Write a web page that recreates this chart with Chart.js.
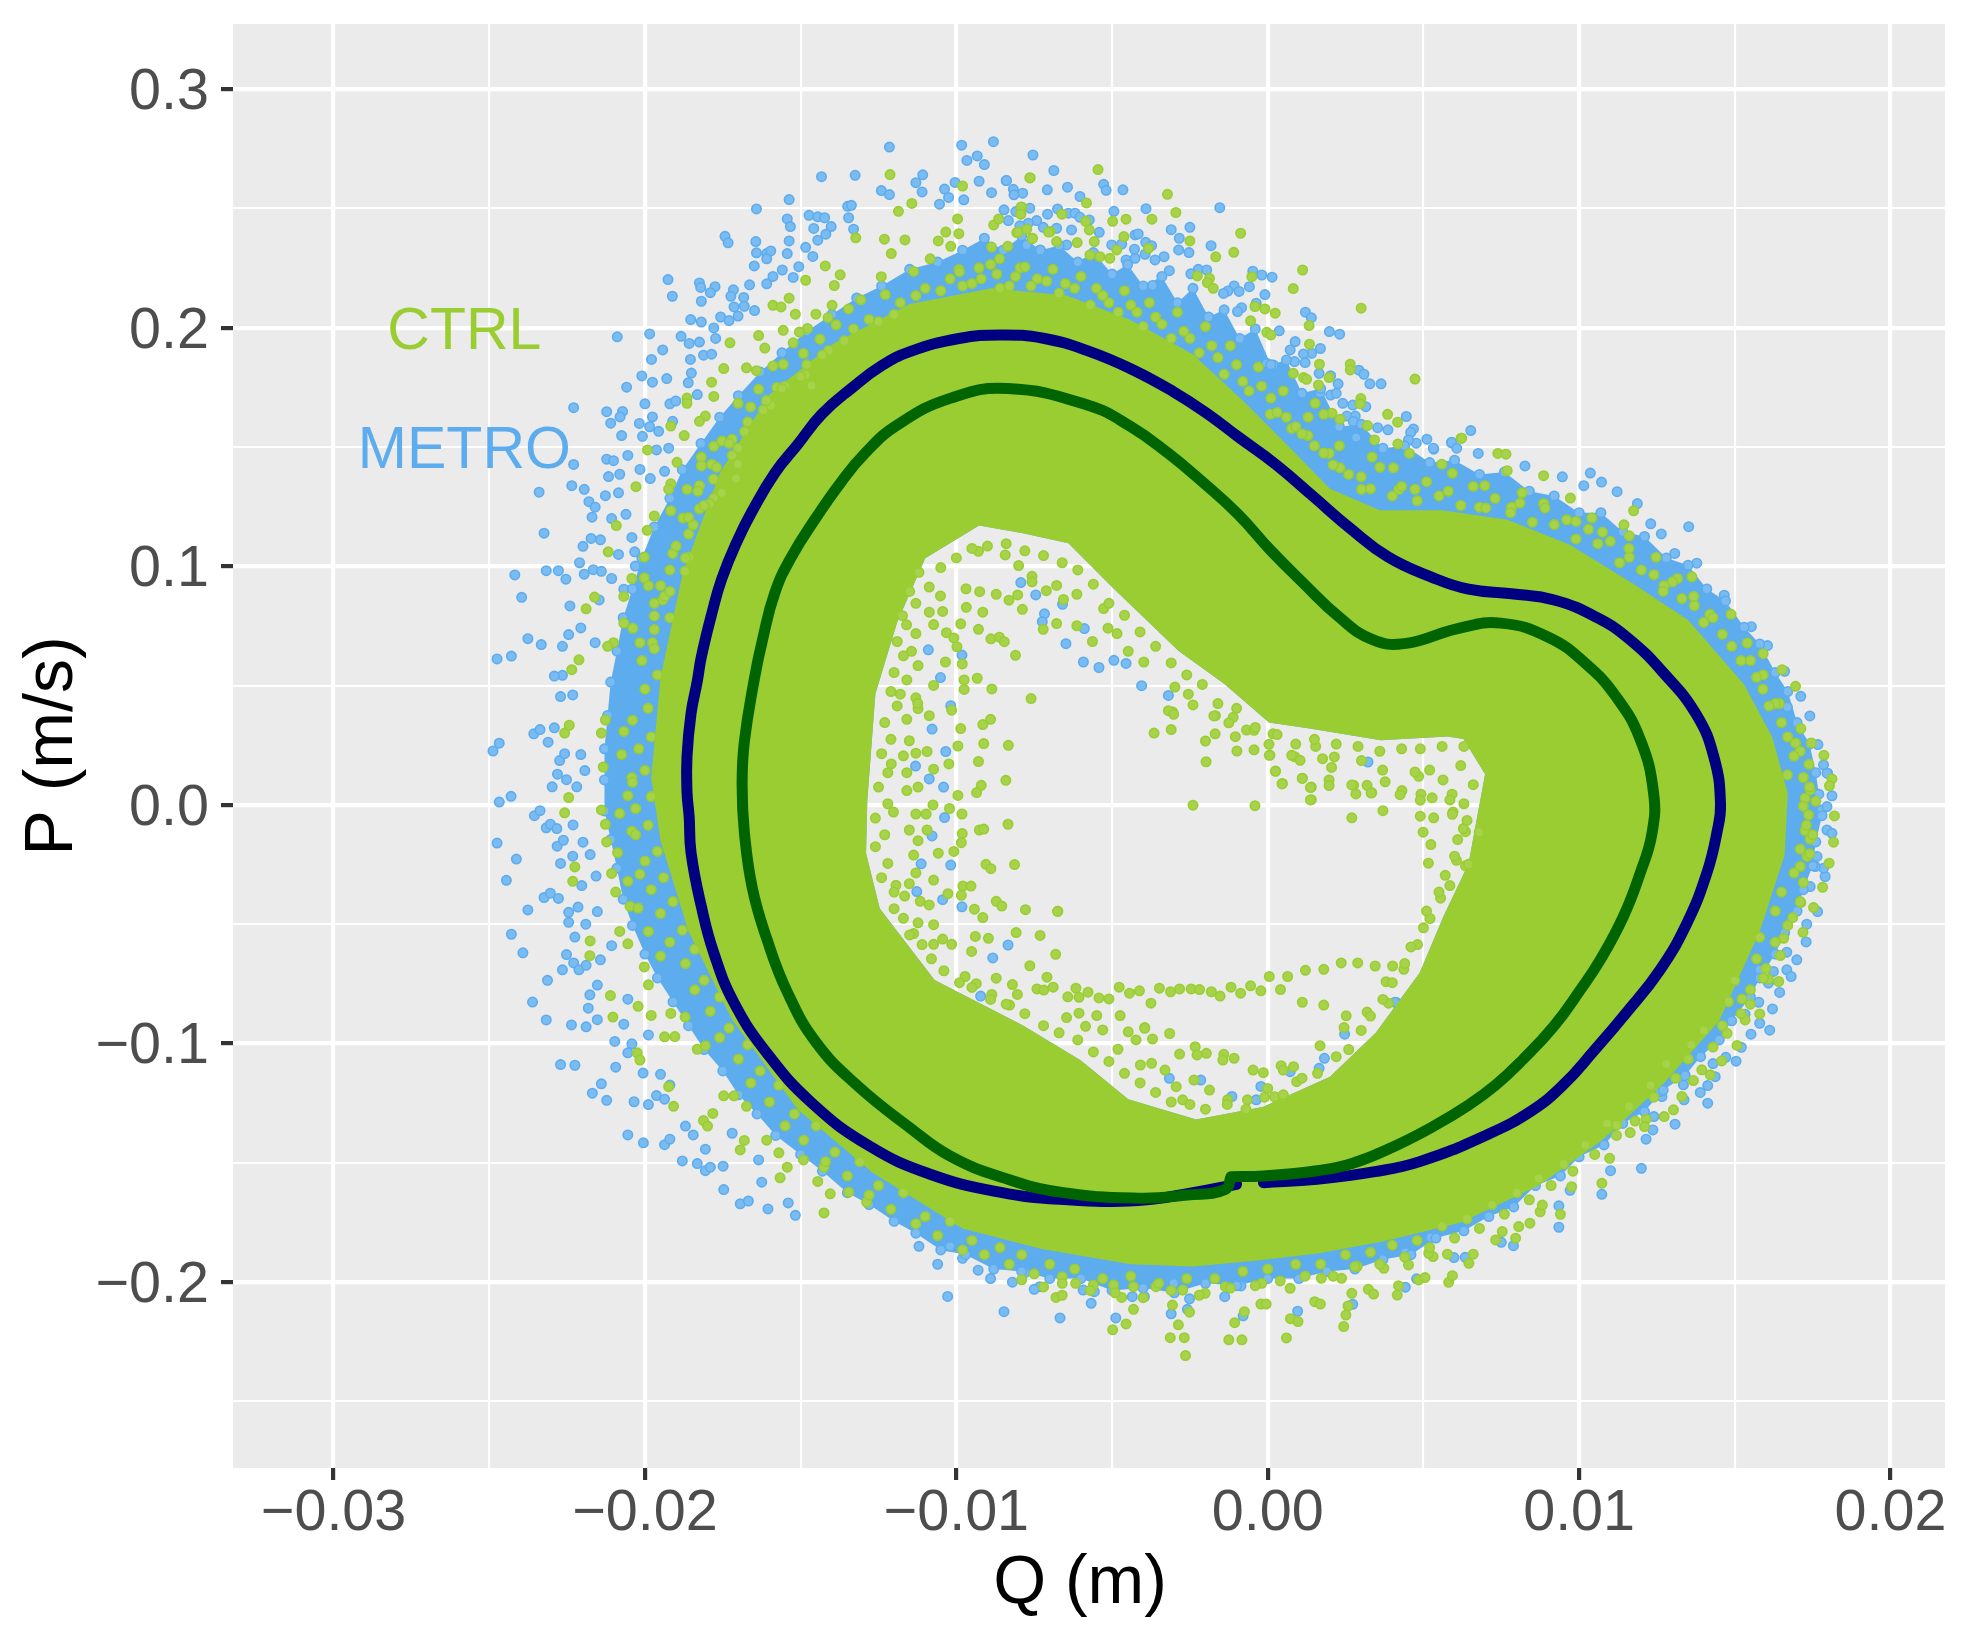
<!DOCTYPE html>
<html>
<head>
<meta charset="utf-8">
<title>Q P phase plot</title>
<script src="https://cdn.jsdelivr.net/npm/chart.js@4/dist/chart.umd.js"></script>
<style>
  html, body { margin: 0; padding: 0; background: #fff; }
  canvas { display: block; }
</style>
</head>
<body>
<canvas id="chart" width="1968" height="1632"></canvas>
<script>
// ==================== AXES ====================
const qTicks = [-0.03, -0.02, -0.01, 0, 0.01, 0.02];
const qTickLabels = ["−0.03", "−0.02", "−0.01", "0.00", "0.01", "0.02"];
const qMinor = [-0.025, -0.015, -0.005, 0.005, 0.015];
const pTicks = [-0.2, -0.1, 0, 0.1, 0.2, 0.3];
const pTickLabels = ["−0.2", "−0.1", "0.0", "0.1", "0.2", "0.3"];
const pMinor = [-0.25, -0.15, -0.05, 0.05, 0.15, 0.25];
const groupNames = ["CTRL", "METRO"];
const groupLabelQ = [-0.0258, -0.0258];
const groupLabelP = [0.2, 0.15];

// ==================== LIMIT CYCLES (Q, P) ====================
const metroCycle = [
  [-0.00014,-0.1583],[0.00158,-0.1569],[0.00344,-0.1537],[0.00488,-0.1495],[0.00703,-0.1383],[0.00847,-0.1282],[0.0095,-0.1172],[0.01046,-0.1033],
  [0.01153,-0.0869],[0.0126,-0.0691],[0.01346,-0.0496],[0.0141,-0.0286],[0.01442,-0.0119],[0.01454,0.0006],[0.01433,0.02],[0.01376,0.038],
  [0.0127,0.0555],[0.01161,0.0695],[0.01058,0.0785],[0.0092,0.0859],[0.00783,0.0885],[0.00645,0.0904],[0.00524,0.0956],[0.00387,0.1039],
  [0.00266,0.1158],[0.00146,0.1293],[0.00025,0.1428],[-0.00095,0.1543],[-0.00196,0.1642],[-0.00303,0.1732],[-0.00432,0.1823],[-0.00571,0.19],
  [-0.00721,0.1956],[-0.0086,0.197],[-0.00992,0.1955],[-0.01149,0.19],[-0.01241,0.184],[-0.01333,0.175],[-0.01432,0.1638],[-0.0151,0.151],
  [-0.01583,0.1391],[-0.01655,0.1233],[-0.01701,0.1114],[-0.01753,0.0949],[-0.01786,0.0799],[-0.01819,0.062],[-0.01832,0.0518],[-0.01852,0.0383],
  [-0.01865,0.0203],[-0.01865,0.0054],[-0.01858,-0.0051],[-0.01852,-0.02],[-0.01819,-0.0425],[-0.01779,-0.062],[-0.01714,-0.0829],[-0.01609,-0.1039],
  [-0.01465,-0.1248],[-0.01281,-0.1428],[-0.01084,-0.1548],[-0.00861,-0.1623],[-0.00667,-0.1653],[-0.00416,-0.1658],[-0.0024,-0.1625],[-0.001,-0.159]
];
const ctrlCycle = [
  [-0.00118,-0.1558],[-0.00014,-0.1555],[0.00158,-0.1533],[0.00273,-0.1502],[0.00416,-0.1425],[0.00531,-0.1348],[0.00646,-0.1257],[0.00732,-0.1174],
  [0.00818,-0.1069],[0.00918,-0.0929],[0.01004,-0.0775],[0.01068,-0.0649],[0.01142,-0.0468],[0.01196,-0.0286],[0.01234,-0.0119],[0.01239,0.0051],
  [0.01196,0.0275],[0.01118,0.0455],[0.01023,0.059],[0.00903,0.0702],[0.00748,0.0762],[0.0061,0.0739],[0.00438,0.0676],[0.00335,0.0694],
  [0.00232,0.0784],[0.00111,0.0934],[0.00008,0.1069],[-0.00095,0.1218],[-0.00216,0.1361],[-0.00319,0.1473],[-0.00439,0.1585],[-0.00577,0.1675],
  [-0.00835,0.1745],[-0.01018,0.1705],[-0.01189,0.1593],[-0.01294,0.1473],[-0.01373,0.1348],[-0.01451,0.1203],[-0.0153,0.1039],[-0.01583,0.0889],
  [-0.01622,0.0695],[-0.01648,0.0533],[-0.01681,0.0263],[-0.01688,0.0084],[-0.01681,-0.0111],[-0.01655,-0.035],[-0.01609,-0.056],[-0.01543,-0.0784],
  [-0.01451,-0.0994],[-0.0132,-0.1174],[-0.01149,-0.1353],[-0.01018,-0.1473],[-0.00848,-0.1563],[-0.00667,-0.1623],[-0.00416,-0.1648],[-0.00258,-0.1635],
  [-0.00136,-0.1611],[-0.00118,-0.1558]
];

// ==================== SOLID PARTS OF THE CLOUDS (Q, P) ====================
const ctrlOuter = [
  [-0.00887,0.2165],[-0.00645,0.2135],[-0.00444,0.2035],[-0.00242,0.189],[-0.0008,0.1695],[0.0008,0.1485],[0.002,0.1325],[0.0036,0.1235],
  [0.0056,0.1235],[0.0077,0.1195],[0.0097,0.109],[0.0117,0.093],[0.0135,0.0775],[0.0153,0.0505],[0.0162,0.0285],[0.0167,0.005],
  [0.0166,-0.021],[0.0158,-0.053],[0.0145,-0.0905],[0.0127,-0.117],[0.0107,-0.141],[0.0087,-0.1595],[0.0062,-0.175],[0.0037,-0.183],
  [0.0016,-0.188],[-0.0004,-0.191],[-0.0024,-0.1935],[-0.0044,-0.1925],[-0.0073,-0.186],[-0.0098,-0.1775],[-0.0127,-0.154],
  [-0.0151,-0.1275],[-0.0172,-0.09],[-0.0186,-0.053],[-0.0195,-0.015],[-0.0198,0.0113],[-0.0195,0.0534],[-0.0188,0.0965],
  [-0.0176,0.139],[-0.016,0.172],[-0.014,0.193],[-0.0115,0.21]
];
const ctrlInner = [
  [-0.00927,0.1171],[-0.011,0.1034],[-0.0119,0.0766],[-0.0126,0.0466],[-0.01286,0.0018],[-0.0129,-0.0203],[-0.01246,-0.0434],
  [-0.0107,-0.0734],[-0.00786,-0.0924],[-0.006,-0.1071],[-0.00448,-0.1234],[-0.0023,-0.1318],[-0.00016,-0.1266],[0.002,-0.1139],
  [0.00347,-0.0955],[0.00488,-0.0703],[0.00565,-0.0466],[0.00645,-0.0245],[0.00698,0.0129],[0.00629,0.0276],[0.00577,0.0287],
  [0.00363,0.0271],[0.00145,0.0318],[0.00004,0.0345],[-0.0014,0.0508],[-0.00286,0.0645],[-0.005,0.0913],[-0.0064,0.1097],[-0.00786,0.1139]
];

// ==================== METRO POINTS (Q, P) ====================
const metroEdge = [
  [-0.0098,0.2325],[-0.0091,0.2375],[-0.0085,0.2325],[-0.0079,0.2385],[-0.0073,0.2325],[-0.0067,0.2345],[-0.0061,0.2275],[-0.0056,0.2315],[-0.005,0.2225],[-0.0045,0.2265],
  [-0.004,0.2175],[-0.0034,0.2215],[-0.0029,0.2105],[-0.0024,0.2165],[-0.0019,0.2045],[-0.0014,0.2075],[-0.0009,0.1955],[-0.0004,0.1995],[0.0001,0.1845],[0.0006,0.1865],
  [0.0011,0.1725],[0.0017,0.1745],[0.0023,0.1585],[0.003,0.1595],[0.0037,0.1495],[0.0044,0.1505],[0.0052,0.1435],[0.006,0.1445],[0.0068,0.1385],[0.0076,0.1395],
  [0.0084,0.1315],[0.0092,0.1295],[0.01,0.1225],[0.0107,0.1225],[0.0114,0.1145],[0.0121,0.1125],[0.0128,0.1035],[0.0135,0.1005],[0.0141,0.0905],[0.0147,0.0855],
  [0.0153,0.0745],[0.0158,0.0675],[0.0163,0.0555],[0.0167,0.0475],[0.017,0.0345],[0.0174,0.0255],[0.0176,0.0135],[0.0177,0.0045],[0.0178,-0.0045],[0.0176,-0.0155],
  [0.0175,-0.0255],[0.0172,-0.0355],[0.017,-0.0445],[0.0166,-0.0535],[0.0163,-0.0625],[0.0158,-0.0725],[0.0155,-0.0805],[0.0149,-0.0905],[0.0145,-0.0985],[0.0139,-0.1055],
  [0.0134,-0.1135],[0.0127,-0.1195],[0.0121,-0.1285],[0.0114,-0.1335],[0.0108,-0.1425],[0.01,-0.1475],[0.0094,-0.1555],[0.0086,-0.1595],[0.0079,-0.1685],[0.0071,-0.1725],
  [0.0063,-0.1785],[0.0054,-0.1815],[0.0046,-0.1885],[0.0037,-0.1905],[0.0028,-0.1945],[0.0019,-0.1955],[0.001,-0.1985],[0,-0.1985],[-0.001,-0.2015],[-0.002,-0.2005],
  [-0.003,-0.2045],[-0.004,-0.2025],[-0.005,-0.2035],[-0.006,-0.1985],[-0.007,-0.1985],[-0.0079,-0.1955],[-0.0088,-0.1945],[-0.0097,-0.1885],[-0.0105,-0.1865],[-0.0113,-0.1795],
  [-0.012,-0.1745],[-0.0128,-0.1675],[-0.0135,-0.1625],[-0.0143,-0.1535],[-0.015,-0.1465],[-0.0158,-0.1385],[-0.0164,-0.1295],[-0.017,-0.1215],[-0.0175,-0.1115],[-0.0181,-0.1025],
  [-0.0186,-0.0925],[-0.0191,-0.0825],[-0.0196,-0.0725],[-0.02,-0.0625],[-0.0204,-0.0505],[-0.0207,-0.0395],[-0.0209,-0.0265],[-0.0211,-0.0145],[-0.0213,-0.0025],[-0.0213,0.0105],
  [-0.0213,0.0235],[-0.0212,0.0375],[-0.0211,0.0515],[-0.0209,0.0645],[-0.0207,0.0785],[-0.0204,0.0905],[-0.0201,0.1035],[-0.0197,0.1165],[-0.0192,0.1285],[-0.0188,0.1405],
  [-0.0182,0.1515],[-0.0176,0.1625],[-0.017,0.1715],[-0.0163,0.1815],[-0.0156,0.1895],[-0.0148,0.1985],[-0.014,0.2055],[-0.0132,0.2125],[-0.0124,0.2175],[-0.0115,0.2245],[-0.0106,0.2275]
];
const metroUpperLeft = [
  [-0.01215,0.2757],[-0.00983,0.2765],[-0.00881,0.278],[-0.00933,0.272],[-0.00966,0.2701],[-0.0091,0.2684],[-0.01433,0.2633],[-0.01325,0.2639],
  [-0.01537,0.2537],[-0.01642,0.2498],[-0.01108,0.2641],[-0.0113,0.2608],[-0.01241,0.2575],[-0.01215,0.2558],[-0.01038,0.2581],[-0.01004,0.2609],
  [-0.00839,0.2617],[-0.00927,0.2614],[-0.00887,0.2566],[-0.0111,0.2569],[-0.01025,0.2546],[-0.00976,0.2536],[-0.01054,0.2518],[-0.01349,0.2509],
  [-0.01337,0.2513],[-0.01543,0.2456],[-0.01533,0.2424],[-0.01473,0.2471],[-0.01445,0.2465],[-0.01423,0.2461],[-0.01346,0.2461],[-0.0133,0.2413],
  [-0.01402,0.2424],[-0.01458,0.2416],[-0.01419,0.2392],[-0.01743,0.2383],[-0.01733,0.2356],[-0.01644,0.2361],[-0.01537,0.2364],[-0.01642,0.2314],
  [-0.01609,0.2311],[-0.01596,0.2322],[-0.01609,0.2289],[-0.01543,0.2311],[-0.01484,0.2337],[-0.01445,0.2367],[-0.01461,0.2299],[-0.01649,0.2259],
  [-0.01559,0.2242],[-0.01506,0.2256],[-0.01589,0.2215],[-0.01524,0.2211],[-0.01926,0.2202],[-0.01825,0.2188],[-0.01821,0.2169],[-0.01775,0.2172],
  [-0.01912,0.2132],[-0.01819,0.2111],[-0.0179,0.2147],[-0.01716,0.2159],[-0.01664,0.218],[-0.01609,0.2184],[-0.01724,0.2132],[-0.01683,0.2127],
  [-0.01853,0.2034],[-0.01819,0.2024],[-0.01757,0.2045],[-0.01714,0.2087],[-0.01681,0.209],[-0.01648,0.2072],[-0.01701,0.2049],[-0.0173,0.203],
  [-0.01779,0.1999],[-0.02089,0.1962],[-0.01985,0.1974],[-0.01884,0.1964],[-0.01858,0.1934],[-0.01825,0.194],[-0.01773,0.1955],[-0.01979,0.1867],
  [-0.01943,0.1907],[-0.01854,0.1867],[-0.01812,0.1885],[-0.01786,0.1889],[-0.01851,0.181],[-0.0201,0.1798],[-0.01976,0.1772],[-0.0193,0.1787],
  [-0.01861,0.1769],[-0.02059,0.1751],[-0.02229,0.1665],[-0.02123,0.1648],[-0.02072,0.1649],[-0.02,0.1681],[-0.0192,0.1681],[-0.01901,0.1693],
  [-0.01832,0.172],[-0.0208,0.1626],[-0.0211,0.16],[-0.01976,0.1626],[-0.02018,0.1599],[-0.02075,0.1548],[-0.01985,0.1585],[-0.01956,0.1566],
  [-0.02008,0.1545],[-0.01911,0.1608],[-0.02229,0.1427],[-0.02123,0.1449],[-0.02101,0.1443],[-0.02055,0.1465],[-0.02117,0.1376],[-0.02081,0.1386],
  [-0.02016,0.1406],[-0.02235,0.1338],[-0.0234,0.1311],[-0.02195,0.1323],[-0.02127,0.1296],[-0.02085,0.1308],[-0.01963,0.1488],[-0.01924,0.1495],
  [-0.01937,0.1398],[-0.01983,0.1368],[-0.0218,0.1271],[-0.0216,0.1248],[-0.0217,0.1206],[-0.02107,0.12],[-0.02061,0.1218],[-0.02324,0.1139],
  [-0.02042,0.1121],[-0.02173,0.1117],[-0.02143,0.1111],[-0.02199,0.1084],[-0.02033,0.1061],[-0.02085,0.105],[-0.0221,0.1015],[-0.02317,0.0982],
  [-0.02278,0.0982],[-0.02254,0.0946],[-0.02418,0.0964],[-0.02166,0.0986],[-0.02195,0.0967],[-0.0214,0.0979],[-0.02031,0.1001],[-0.02396,0.087],
  [-0.02241,0.0834],[-0.02107,0.0949],[-0.02068,0.0904],[-0.02147,0.0859],[-0.02376,0.0697],[-0.02245,0.0714],[-0.02206,0.0742],[-0.02333,0.0672],
  [-0.02265,0.0665],[-0.0216,0.068],[-0.02475,0.0612],[-0.02429,0.0624]
];
const metroLowerLeft = [
  [-0.02488,0.0226],[-0.02468,0.0259],[-0.02357,0.0298],[-0.02337,0.0316],[-0.02311,0.0263],[-0.02291,0.0323],[-0.02265,0.0543],[-0.02291,0.054],
  [-0.02232,0.0461],[-0.02271,0.0454],[-0.02206,0.0211],[-0.02274,0.0186],[-0.02258,0.0215],[-0.02298,0.0076],[-0.02281,0.0129],[-0.02219,0.0076],
  [-0.02252,0.0106],[-0.02193,0.0144],[-0.02468,0.0012],[-0.0243,0.0036],[-0.02355,-0.0045],[-0.02337,-0.0024],[-0.02317,-0.0096],[-0.02304,-0.0081],
  [-0.02283,-0.0099],[-0.02231,-0.0084],[-0.02475,-0.016],[-0.02413,-0.0227],[-0.02282,-0.0173],[-0.02262,-0.0148],[-0.02199,-0.0156],[-0.02271,-0.0245],
  [-0.02232,-0.0215],[-0.02176,-0.0208],[-0.02445,-0.0316],[-0.02324,-0.0388],[-0.02304,-0.037],[-0.02278,-0.0392],[-0.02203,-0.0338],[-0.02157,-0.0298],
  [-0.02376,-0.044],[-0.02429,-0.0542],[-0.02392,-0.062],[-0.02215,-0.0428],[-0.02245,-0.045],[-0.02245,-0.0492],[-0.02225,-0.0554],[-0.0219,-0.05],
  [-0.02153,-0.0447],[-0.02252,-0.0627],[-0.02265,-0.0691],[-0.02229,-0.0662],[-0.02212,-0.0691],[-0.02189,-0.0672],[-0.02313,-0.0735],[-0.02143,-0.0649],
  [-0.02361,-0.0826],[-0.02177,-0.0796],[-0.02153,-0.0755],[-0.02317,-0.0901],[-0.02182,-0.0852],[-0.02236,-0.0922],[-0.02189,-0.093],[-0.02153,-0.09],
  [-0.02055,-0.0814],[-0.02271,-0.1088],[-0.02225,-0.1091],[-0.02097,-0.0991],[-0.02094,-0.1099],[-0.02006,-0.1124],[-0.0214,-0.1169],[-0.02169,-0.1208],
  [-0.02123,-0.1238],[-0.02035,-0.1244],[-0.01989,-0.1256],[-0.02055,-0.1383],[-0.02005,-0.1416],[-0.01937,-0.1424],[-0.0192,-0.1401],[-0.0188,-0.1492],
  [-0.01832,-0.1503],[-0.01806,-0.1533],[-0.0179,-0.1518],[-0.01747,-0.1612],[-0.01749,-0.1514],[-0.01694,-0.1672],[-0.01668,-0.166],[-0.01605,-0.1693],
  [-0.0154,-0.1668],[-0.01517,-0.172],[-0.01625,-0.1581],[-0.0187,-0.1346],[-0.01845,-0.1383],[-0.01806,-0.1443],[-0.0172,-0.1376],[-0.01635,-0.1488],
  [-0.01963,-0.1218],[-0.01937,-0.1233],[-0.0195,-0.1129],[-0.0192,-0.1174],[-0.02042,-0.1001],[-0.02055,-0.1039],[-0.01989,-0.0964],[-0.02068,-0.0919],
  [-0.02107,-0.059],[-0.0102,-0.185],[-0.0098,-0.19],[-0.0093,-0.195],[-0.0089,-0.1985],[-0.0082,-0.2],[-0.0078,-0.196],[-0.0106,-0.1925],[-0.0112,-0.185],
  [-0.0075,-0.203],[-0.00847,-0.2124],[-0.01028,-0.206]
];
const metroTopRight = [
  [-0.00754,0.2724],[-0.00687,0.2659],[-0.0084,0.2617],[-0.00817,0.258],[-0.00787,0.2564],[-0.00815,0.2557],[-0.00708,0.2578],[-0.00643,0.2589],
  [-0.00527,0.2601],[-0.00519,0.2576],[-0.00465,0.2578],[-0.00603,0.255],[-0.00847,0.2494],[-0.00809,0.2487],[-0.00764,0.2501],[-0.00707,0.2476],
  [-0.00675,0.2498],[-0.00494,0.2488],[-0.00391,0.2499],[-0.00154,0.2503],[-0.0064,0.248],[-0.00619,0.248],[-0.00603,0.2463],[-0.00573,0.2452],
  [-0.00742,0.2449],[-0.00769,0.2438],[-0.00796,0.2427],[-0.00833,0.2449],[-0.00678,0.2417],[-0.00721,0.2421],[-0.0063,0.241],[-0.00541,0.24],
  [-0.0031,0.2411],[-0.0025,0.2421],[-0.00284,0.2375],[-0.00286,0.2326],[-0.00253,0.2315],[-0.00182,0.2344],[-0.00426,0.2389],[-0.00416,0.2393],
  [-0.00392,0.2358],[-0.00373,0.2344],[-0.00501,0.2347],[-0.00469,0.2351],[-0.00428,0.2329],[-0.00394,0.2308],[-0.00333,0.2298],[-0.00362,0.2284],
  [-0.00426,0.2291],[-0.00455,0.2284],[-0.00646,0.2347],[-0.00731,0.2326],[-0.00774,0.2347],[-0.00223,0.2245],[-0.00196,0.2242],[-0.00316,0.2239],
  [-0.00247,0.2226],[-0.00048,0.2237],[-0.00019,0.2221],[0.00014,0.2212],[-0.00059,0.2172],[-0.00108,0.2175],[-0.00092,0.2152],[-0.00009,0.2139],
  [-0.00128,0.2154],[-0.00142,0.2144],[-0.0037,0.2177],[-0.00037,0.2103],[-0.00084,0.2084],[-0.00097,0.2068],[0.00121,0.2065],[0.0014,0.2042],
  [0.00037,0.1987],[0.00198,0.1984],[0.00231,0.1973],[0.00088,0.1942],[0.00072,0.1907],[0.00169,0.1913],[0.00141,0.1893],[0.00115,0.189],
  [0.00086,0.1858],[0.0012,0.1854],[-0.00003,0.1851],[0.00018,0.1844],[0.00293,0.1822],[0.00309,0.1805],[0.00165,0.1809],[0.00202,0.1799],
  [0.00328,0.1765],[0.00364,0.1765],[0.00226,0.1765],[0.00168,0.1728],[0.00202,0.1718],[0.0022,0.1725],[0.00241,0.1683],[0.00273,0.1676],
  [0.00315,0.1669],[0.00281,0.163],[0.00254,0.163],[0.00445,0.1628],[0.00275,0.1607],[0.00353,0.1581],[0.00386,0.1572],[0.00468,0.1576],
  [0.00459,0.1561],[0.00652,0.1569],[0.00511,0.1533],[0.00284,0.154],[0.00477,0.1516],[0.00452,0.153],[0.00591,0.152],[0.00532,0.1495],[0.00607,0.1495]
];
const metroRight = [
  [0.0059,0.1518],[0.00533,0.1491],[0.00676,0.1473],[0.01036,0.1391],[0.00946,0.1375],[0.01072,0.1353],[0.01122,0.1313],[0.01015,0.1338],
  [0.00826,0.1421],[0.01187,0.1263],[0.01352,0.1166],[0.0123,0.1178],[0.01378,0.1013],[0.01307,0.1054],[0.01264,0.1136],[0.01466,0.0879],
  [0.01553,0.0747],[0.01605,0.0668],[0.0166,0.056],[0.01712,0.0455],[0.01741,0.0373],[0.01767,0.0253],[0.01798,0.0133],[0.01669,0.041],
  [0.01812,0.0038],[0.01796,0.0133],[0.01785,0.0168],[0.0178,-0.0021],[0.01796,-0.0007],[0.01796,-0.0105],[0.01812,-0.0119],[0.0179,-0.03],
  [0.01785,-0.0265],[0.01764,-0.0216],[0.01758,-0.0258],[0.01742,-0.0342],[0.01766,-0.0447],[0.01731,-0.05],[0.01729,-0.0574],[0.01699,-0.0649],
  [0.01667,-0.0617],[0.01667,-0.0691],[0.01681,-0.0719],[0.01644,-0.0786],[0.0158,-0.0691],[0.01624,-0.0698],[0.01608,-0.0747],[0.01577,-0.0827],
  [0.01621,-0.0855],[0.0158,-0.0915],[0.01612,-0.0944],[0.01552,-0.0961],[0.01533,-0.0877],[0.01521,-0.1016],[0.01504,-0.1074],[0.01471,-0.1058],
  [0.0143,-0.1084],[0.01437,-0.1139],[0.01413,-0.1176],[0.01389,-0.1205],[0.01413,-0.125],[0.01337,-0.1236],[0.01308,-0.1338],[0.01237,-0.1362],
  [0.01215,-0.1401],[0.0124,-0.1306],[0.01266,-0.1222],[0.01335,-0.1173],[0.0134,-0.1131],[0.0126,-0.1201]
];
const metroBottom = [
  [-0.00667,-0.215],[-0.00567,-0.2089],[-0.00488,-0.215],[-0.00435,-0.2061],[-0.00396,-0.2061],[-0.0031,-0.2133],[-0.00251,-0.207],[-0.00258,-0.2114],
  [-0.00138,-0.2061],[-0.00079,-0.2141],[0.00096,-0.2122],[0.00273,-0.2093],[0.00442,-0.2021],[0.00478,-0.1986],[0.00442,-0.1875],[0.00598,-0.1897],
  [0.00634,-0.1896],[0.00524,-0.1813],[0.0075,-0.1833],[0.00789,-0.1847],[0.00935,-0.168],[0.00935,-0.177],[0.00971,-0.1615],[0.01073,-0.1632],
  [0.01101,-0.1533],[0.012,-0.1523],[-0.00732,-0.2019],[-0.00593,-0.2033],[-0.00557,-0.204],[-0.00302,-0.2005],[-0.00086,-0.2016]
];
const metroHole = [
  [-0.00793,0.0932],[-0.00745,0.088],[-0.00659,0.0841],[-0.00717,0.0801],[-0.00724,0.0768],[-0.00648,0.0676],[-0.00589,0.0739],[-0.00592,0.0599],
  [-0.00542,0.0576],[-0.00494,0.0606],[-0.00455,0.0593],[-0.00405,0.05],[-0.00319,0.0459],[-0.0109,0.065],[-0.00982,0.0628],[-0.01051,0.0534],
  [-0.01018,0.0416],[-0.01078,0.0318],[-0.01034,0.0224],[-0.01131,0.0163],[-0.01087,0.0109],[-0.01041,0.0075],[-0.01038,-0.0053],[-0.01078,-0.013],
  [-0.01113,-0.0247],[-0.01018,-0.0252],[-0.01044,-0.0397],[-0.01127,-0.0363],[-0.00982,-0.0427],[-0.00834,-0.0587],[-0.00883,-0.0641],[-0.00922,-0.0801],
  [0.00322,0.018],[0.00413,-0.0828],[-0.00215,-0.1153],[-0.00022,-0.118],[-0.00037,-0.1236],[0.00072,-0.1118],[0.00165,-0.1104],[0.00182,-0.1062],
  [0.00247,-0.0961],[0.00409,-0.0827],[-0.00316,-0.1146],[-0.00115,-0.1222]
];

// ==================== CTRL POINTS (Q, P) ====================
const ctrlEdge = [
  [-0.0098,0.2175],[-0.0092,0.2205],[-0.0086,0.2165],[-0.0081,0.2215],[-0.0076,0.2175],[-0.0071,0.2195],[-0.0067,0.2145],[-0.0062,0.2165],[-0.0057,0.2095],[-0.0053,0.2135],
  [-0.0048,0.2065],[-0.0044,0.2095],[-0.004,0.2005],[-0.0036,0.2045],[-0.0031,0.1955],[-0.0027,0.1985],[-0.0022,0.1895],[-0.0018,0.1925],[-0.0014,0.1805],[-0.001,0.1845],
  [-0.0006,0.1735],[-0.0002,0.1755],[0.0003,0.1645],[0.0006,0.1625],[0.0011,0.1555],[0.0015,0.1505],[0.0021,0.1425],[0.0026,0.1385],[0.0033,0.1325],[0.004,0.1295],
  [0.0048,0.1275],[0.0055,0.1295],[0.0062,0.1255],[0.007,0.1245],[0.0078,0.1225],[0.0085,0.1185],[0.0092,0.1175],[0.0099,0.1115],[0.0106,0.1095],[0.0113,0.1015],
  [0.012,0.0985],[0.0127,0.0895],[0.0133,0.0865],[0.014,0.0765],[0.0146,0.0715],[0.0152,0.0605],[0.0157,0.0535],[0.0161,0.0415],[0.0165,0.0345],[0.0169,0.0205],
  [0.0172,0.0115],[0.0172,-0.0005],[0.0173,-0.0085],[0.0171,-0.0185],[0.0169,-0.0285],[0.0165,-0.0365],[0.0163,-0.0445],[0.0158,-0.0555],[0.0157,-0.0645],[0.015,-0.0735],
  [0.0148,-0.0825],[0.014,-0.0945],[0.0136,-0.1005],[0.0128,-0.1085],[0.0123,-0.1175],[0.0116,-0.1265],[0.0109,-0.1335],[0.0102,-0.1425],[0.0095,-0.1505],[0.0087,-0.1565],
  [0.008,-0.1625],[0.0072,-0.1675],[0.0064,-0.1735],[0.0056,-0.1765],[0.0048,-0.1825],[0.004,-0.1845],[0.0033,-0.1875],[0.0025,-0.1885],[0.0017,-0.1925],[0.0009,-0.1925],
  [0,-0.1945],[-0.0008,-0.1955],[-0.0017,-0.1985],[-0.0026,-0.1985],[-0.0035,-0.2005],[-0.0044,-0.1975],[-0.0053,-0.1985],[-0.0062,-0.1945],[-0.007,-0.1925],[-0.0079,-0.1885],
  [-0.0086,-0.1855],[-0.0095,-0.1825],[-0.0102,-0.1745],[-0.011,-0.1725],[-0.0117,-0.1625],[-0.0125,-0.1595],[-0.0131,-0.1495],[-0.0139,-0.1455],[-0.0145,-0.1345],[-0.0152,-0.1295],
  [-0.0157,-0.1175],[-0.0163,-0.1115],[-0.0167,-0.1005],[-0.0173,-0.0935],[-0.0176,-0.0805],[-0.0181,-0.0735],[-0.0184,-0.0605],[-0.0188,-0.0525],[-0.0191,-0.0405],[-0.0194,-0.0305],
  [-0.0196,-0.0195],[-0.0199,-0.0085],[-0.0198,0.0035],[-0.02,0.0145],[-0.0198,0.0285],[-0.0199,0.0405],[-0.0196,0.0545],[-0.0197,0.0655],[-0.0192,0.0785],[-0.0192,0.0895],
  [-0.0187,0.1035],[-0.0186,0.1135],[-0.0181,0.1255],[-0.0178,0.1365],[-0.0172,0.1465],[-0.0168,0.1565],[-0.0162,0.1655],[-0.0156,0.1745],[-0.015,0.1795],[-0.0143,0.1885],
  [-0.0136,0.1945],[-0.0128,0.2035],[-0.012,0.2055],[-0.0113,0.2135],[-0.0105,0.2155]
];
const ctrlFringe = [
  [-0.0102,0.2205],[-0.0099,0.2235],[-0.0095,0.2185],[-0.0089,0.2265],[-0.0087,0.2225],[-0.0083,0.2175],[-0.0078,0.2255],[-0.0074,0.2205],[-0.0069,0.2245],[-0.0065,0.2185],
  [-0.006,0.2215],[-0.0055,0.2165],[-0.0051,0.2105],[-0.0046,0.2155],[-0.0042,0.2065],[-0.0038,0.2105],[-0.0034,0.2015],[-0.0029,0.2065],[-0.0025,0.1955],[-0.002,0.2005],
  [-0.0016,0.1875],[-0.0012,0.1925],[-0.0008,0.1775],[-0.0003,0.1835],[0.0001,0.1705],[0.0005,0.1735],[0.0009,0.1585],[0.0013,0.1625],[0.0018,0.1475],[0.0023,0.1505],
  [0.003,0.1375],[0.0036,0.1415],[0.0043,0.1335],[0.0051,0.1355],[0.0058,0.1315],[0.0066,0.1335],[0.0073,0.1285],[0.0081,0.1265],[0.0089,0.1245],[0.0096,0.1195],
  [0.0103,0.1155],[0.011,0.1105],[0.0116,0.1075],[0.0124,0.0965],[0.013,0.0935],[0.0137,0.0835],[0.0143,0.0785],[0.0149,0.0665],[0.0155,0.0605],[0.0159,0.0485],
  [0.0163,0.0425],[0.0167,0.0285],[0.0171,0.0225],[0.0174,0.0075],[0.0176,0.0015],[0.0175,-0.0125],[0.0174,-0.0205],[0.0172,-0.0325],[0.0171,-0.0405],[0.0167,-0.0505],
  [0.0163,-0.0575],[0.016,-0.0685],[0.0155,-0.0775],[0.0152,-0.0875],[0.0146,-0.0925],[0.0143,-0.1015],[0.0135,-0.1065],[0.0131,-0.1145],[0.0124,-0.1225],[0.0118,-0.1325],
  [0.0112,-0.1385],[0.0105,-0.1465],[0.0098,-0.1535],[0.0091,-0.1595],[0.0084,-0.1655],[0.0076,-0.1715],[0.0068,-0.1775],[0.006,-0.1815],[0.0052,-0.1855],[0.0044,-0.1895],
  [0.0036,-0.1925],[0.0028,-0.1935],[0.0021,-0.1975],[0.0012,-0.1975],[0.0004,-0.1995],[-0.0004,-0.2015],[-0.0012,-0.2025],[-0.0022,-0.2055],[-0.0031,-0.2035],[-0.004,-0.2065],
  [-0.0049,-0.2045],[-0.0057,-0.2035],[-0.0066,-0.2005],[-0.0075,-0.1965],[-0.0083,-0.1925],[-0.0091,-0.1885],[-0.0098,-0.1865],[-0.0106,-0.1805],[-0.0113,-0.1755],[-0.0121,-0.1695],
  [-0.0128,-0.1635],[-0.0135,-0.1555],[-0.0142,-0.1495],[-0.0149,-0.1405],[-0.0155,-0.1345],[-0.016,-0.1245],[-0.0166,-0.1165],[-0.017,-0.1065],[-0.0176,-0.0975],[-0.0179,-0.0865],
  [-0.0184,-0.0775],[-0.0187,-0.0665],[-0.0192,-0.0575],[-0.0195,-0.0455],[-0.0198,-0.0355],[-0.02,-0.0235],[-0.0203,-0.0125],[-0.0203,-0.0015],[-0.0204,0.0095],[-0.0202,0.0235],
  [-0.0204,0.0355],[-0.02,0.0485],[-0.0201,0.0605],[-0.0197,0.0735],[-0.0197,0.0845],[-0.0192,0.0985],[-0.019,0.1085],[-0.0186,0.1205],[-0.0183,0.1315],[-0.0177,0.1415],
  [-0.0173,0.1515],[-0.0167,0.1605],[-0.0161,0.1695],[-0.0155,0.1755],[-0.0148,0.1845],[-0.0141,0.1905],[-0.0133,0.1995],[-0.0125,0.2025],[-0.0118,0.2105],[-0.011,0.2165]
];
const ctrlInnerEdge = [
  [-0.0112,0.0975],[-0.0115,0.0895],[-0.0113,0.0845],[-0.0116,0.0755],[-0.0119,0.0685],[-0.0117,0.0625],[-0.012,0.0555],[-0.0121,0.0475],[-0.0119,0.0415],[-0.0123,0.0345],
  [-0.0121,0.0275],[-0.0124,0.0215],[-0.0122,0.0135],[-0.0125,0.0075],[-0.0122,0.0005],[-0.0126,-0.0055],[-0.0123,-0.0125],[-0.0126,-0.0175],[-0.0122,-0.0245],[-0.0124,-0.0305],
  [-0.012,-0.0365],[-0.012,-0.0435],[-0.0117,-0.0475],[-0.0115,-0.0545],[-0.0111,-0.0585],[-0.0108,-0.0645],[-0.0104,-0.0695],[-0.0099,-0.0745],[-0.0095,-0.0765],[-0.0089,-0.0815],
  [-0.0084,-0.0835],[-0.0078,-0.0875],[-0.0072,-0.0925],[-0.0067,-0.0955],[-0.0061,-0.0985],[-0.0056,-0.1035],[-0.0051,-0.1075],[-0.0046,-0.1125],[-0.0041,-0.1165],[-0.0036,-0.1205],
  [-0.0031,-0.1245],[-0.0025,-0.1255],[-0.002,-0.1275],[-0.0013,-0.1255],[-0.0007,-0.1275],[-0.0001,-0.1225],[0.0005,-0.1215],[0.0011,-0.1145],[0.0016,-0.1125],[0.0022,-0.1055],
  [0.0026,-0.1025],[0.003,-0.0945],[0.0033,-0.0885],[0.0037,-0.0815],[0.004,-0.0745],[0.0044,-0.0665],[0.0046,-0.0595],[0.005,-0.0515],[0.0051,-0.0445],[0.0055,-0.0365],
  [0.0057,-0.0295],[0.006,-0.0215],[0.0061,-0.0145],[0.0064,-0.0065],[0.0063,0.0005],[0.0066,0.0085],[0.0062,0.0165],[0.0063,0.0245],[0.0056,0.0245],[0.0049,0.0235],
  [0.0043,0.0235],[0.0036,0.0225],[0.0029,0.0245],[0.0022,0.0255],[0.0015,0.0275],[0.0009,0.0255],[0.0003,0.0295],[-0.0004,0.0325],[-0.001,0.0405],[-0.0016,0.0425],
  [-0.0021,0.0505],[-0.0026,0.0545],[-0.0031,0.0595],[-0.0036,0.0665],[-0.0041,0.0725],[-0.0046,0.0795],[-0.0051,0.0845],[-0.0056,0.0925],[-0.0061,0.0985],[-0.0066,0.1015],
  [-0.0072,0.1045],[-0.0078,0.1065],[-0.0084,0.1095],[-0.009,0.1085],[-0.0095,0.1075],[-0.01,0.1035],[-0.0105,0.0995]
];
const ctrlUpperLeft = [
  [-0.01213,0.2642],[-0.0098,0.2594],[-0.00763,0.2629],[-0.01143,0.2521],[-0.01186,0.2488],[-0.00792,0.2506],[-0.00793,0.2476],[-0.00996,0.2456],
  [-0.0088,0.2431],[-0.00864,0.2456],[-0.01323,0.2377],[-0.01231,0.2371],[-0.01165,0.2368],[-0.01034,0.2401],[-0.00992,0.2394],[-0.00802,0.2401],
  [-0.00756,0.2374],[-0.01209,0.2311],[-0.01058,0.2364],[-0.01018,0.2341],[-0.00887,0.2338],[-0.00835,0.2341],[-0.00704,0.2401],[-0.01421,0.2259],
  [-0.01373,0.2222],[-0.01484,0.2199],[-0.01241,0.2214],[-0.01137,0.2236],[-0.01084,0.2289],[-0.00992,0.2244],[-0.00927,0.2251],[-0.00861,0.2289],
  [-0.00795,0.2251],[-0.01392,0.2177],[-0.01307,0.2117],[-0.01228,0.2139],[-0.01537,0.2124],[-0.01589,0.2094],[-0.01563,0.2087],[-0.01399,0.2094],
  [-0.01346,0.2079],[-0.01517,0.2057],[-0.01451,0.2057],[-0.01386,0.2012],[-0.01478,0.1997],[-0.01504,0.1982],[-0.01556,0.1989],[-0.01727,0.1937],
  [-0.01635,0.1967],[-0.01524,0.1937],[-0.01491,0.1892],[-0.01438,0.1952],[-0.01412,0.2042],[-0.01615,0.1915],[-0.01747,0.1829],[-0.01674,0.1832],
  [-0.01642,0.182],[-0.01556,0.1847],[-0.01589,0.184],[-0.01786,0.1772],[-0.01865,0.1705],[-0.01865,0.1683],[-0.01635,0.1742],[-0.01576,0.175],
  [-0.01484,0.1802],[-0.01465,0.1757],[-0.01779,0.1712],[-0.01806,0.163],[-0.01825,0.1608],[-0.01701,0.1683],[-0.01661,0.1668],[-0.01596,0.1675],
  [-0.01917,0.1588],[-0.01874,0.1548],[-0.01753,0.1525],[-0.0172,0.1533],[-0.01779,0.1503],[-0.01819,0.1458],[-0.01701,0.1495],[-0.01786,0.1428],
  [-0.01701,0.1428],[-0.01819,0.1421],[-0.01992,0.1488],[-0.01897,0.1436],[-0.02029,0.1334],[-0.01917,0.1346],[-0.01924,0.1323],[-0.01865,0.1323],
  [-0.01825,0.1338],[-0.01753,0.1308],[-0.01707,0.1368],[-0.01779,0.1286],[-0.02092,0.1171],[-0.01993,0.1151],[-0.0197,0.1211],[-0.01917,0.1233],
  [-0.01878,0.1203],[-0.01825,0.1241],[-0.02118,0.1061],[-0.02002,0.1039],[-0.01911,0.1054],[-0.01845,0.1174],[-0.01792,0.1263],[-0.01858,0.1039],
  [-0.01871,0.0979],[-0.02002,0.0952],[-0.02042,0.0949],[-0.02162,0.0871],[-0.02189,0.0822],[-0.02068,0.0874],[-0.01943,0.0859],[-0.01989,0.0919],
  [-0.0195,0.0919],[-0.02068,0.0762],[-0.02039,0.074],[-0.0197,0.0792],[-0.01937,0.0874],[-0.02101,0.068],[-0.0212,0.0665],[-0.02016,0.068],
  [-0.01976,0.068],[-0.02212,0.0608]
];
const ctrlLowerLeft = [
  [-0.02235,0.0567],[-0.02258,0.0301],[-0.02243,0.0334],[-0.0214,0.0301],[-0.02127,0.0356],[-0.02245,0.0031],[-0.02258,-0.0033],[-0.0214,-0.0021],
  [-0.02127,-0.0081],[-0.02225,-0.026],[-0.02232,-0.032],[-0.02123,-0.0155],[-0.02088,-0.02],[-0.02094,-0.0365],[-0.02107,-0.0287],[-0.02176,-0.057],
  [-0.02177,-0.0632],[-0.02055,-0.0582],[-0.02111,-0.0799],[-0.02103,-0.0889],[-0.02022,-0.0844],[-0.0198,-0.0882],[-0.02025,-0.1039],[-0.02016,-0.1069],
  [-0.01937,-0.0972],[-0.01904,-0.0971],[-0.01924,-0.1181],[-0.01908,-0.1263],[-0.01782,-0.1293],[-0.01812,-0.1323],[-0.01799,-0.1346],[-0.01681,-0.1406],
  [-0.01694,-0.1446],[-0.01566,-0.1563],[-0.01543,-0.1518],[-0.01445,-0.1578],[-0.01405,-0.163],[-0.01425,-0.171],[-0.01288,-0.1665],[-0.02068,0.0308],
  [-0.02042,0.0114],[-0.02134,0.0159],[-0.02075,0.0211],[-0.02055,0.0039],[-0.02081,-0.0036],[-0.02042,-0.011],[-0.02016,-0.029],[-0.02055,-0.032],
  [-0.02048,-0.0425],[-0.02022,-0.0432],[-0.02081,-0.053],[-0.01989,-0.053],[-0.02002,-0.0679],[-0.0195,-0.0634],[-0.01989,-0.0754],[-0.01917,-0.0874],
  [-0.01871,-0.0889],[-0.01832,-0.1024],[-0.01806,-0.1009],[-0.01747,-0.1219],[-0.01714,-0.1219],[-0.01674,-0.1263],[-0.01609,-0.1405],[-0.0157,-0.1458],
  [-0.01491,-0.1488],[-0.01425,-0.1518],[-0.01346,-0.1623],[-0.0079,-0.199],[-0.0072,-0.202],[-0.0066,-0.2055]
];
const ctrlTopRight = [
  [-0.00545,0.2663],[-0.00764,0.2628],[-0.00322,0.2559],[-0.00582,0.2523],[-0.0079,0.2505],[-0.00793,0.2477],[-0.00661,0.2476],[-0.00295,0.2483],
  [-0.00455,0.2455],[-0.00498,0.2446],[-0.00372,0.2455],[-0.00585,0.2446],[-0.00573,0.241],[-0.00087,0.2396],[-0.0025,0.2364],[-0.00462,0.2382],
  [-0.00699,0.2403],[-0.00774,0.2413],[-0.00806,0.2399],[-0.00756,0.2375],[-0.00557,0.2361],[-0.00612,0.2357],[-0.00678,0.2361],[-0.00109,0.2316],
  [-0.00167,0.2297],[-0.00383,0.2333],[-0.00485,0.2326],[-0.00507,0.2291],[-0.00539,0.2298],[-0.00571,0.2305],[0.00112,0.2242],[-0.00051,0.2214],
  [0.00082,0.2164],[0.003,0.2082],[-0.00226,0.2217],[-0.00187,0.2207],[-0.00194,0.2189],[-0.00175,0.2165],[0.00133,0.2009],[-0.00041,0.2089],
  [-0.00009,0.2079],[0.00024,0.2061],[-0.00055,0.2029],[-0.00003,0.1981],[0.0001,0.197],[0.00134,0.1931],[0.00166,0.1847],[0.00265,0.1847],
  [0.00265,0.1823],[0.00473,0.1785],[0.00082,0.1809],[0.00115,0.1791],[0.00125,0.1784],[0.00197,0.1791],[0.00163,0.176],[0.00299,0.1703],
  [0.00297,0.1681],[0.00385,0.1637],[0.00417,0.1604],[0.0032,0.159],[0.00623,0.1537],[0.00343,0.153],[0.00418,0.1513],[0.00232,0.1616],
  [0.00206,0.1642],[0.00152,0.1683],[0.00077,0.1578],[0.00197,0.1473],[0.00232,0.1413],[0.00335,0.1458],[0.00404,0.1413],[0.00421,0.1323],
  [0.00301,0.1323],[0.0018,0.1637],[0.00455,0.1473],[0.00008,0.1637],[0.00129,0.1548]
];
const ctrlRight = [
  [0.00739,0.1473],[0.00765,0.147],[0.00621,0.1537],[0.00886,0.138],[0.00769,0.1401],[0.00972,0.1286],[0.01175,0.1233],[0.01144,0.1174],
  [0.01362,0.0956],[0.01652,0.0567],[0.01695,0.0497],[0.00473,0.1323],[0.00559,0.1428],[0.00593,0.139],[0.00697,0.1338],[0.0068,0.1248],
  [0.00817,0.1308],[0.00783,0.1248],[0.00886,0.1263],[0.0099,0.1188],[0.01041,0.1203],[0.01075,0.1143],[0.01161,0.1128],[0.01161,0.1038],
  [0.01247,0.1038],[0.01316,0.0949],[0.01273,0.0919],[0.01368,0.0874],[0.0142,0.0799],[0.01488,0.0799],[0.0154,0.0679],[0.01591,0.0634],
  [0.01591,0.0545],[0.01643,0.0425],[0.01712,0.032],[0.01746,0.026],[0.01695,0.026],[0.01669,0.0126],[0.01738,0.017],[0.01786,0.0208],
  [0.0182,-0.0046],[0.01812,0.0109],[0.01804,0.008],[0.01817,-0.0156],[0.01803,-0.0244],[0.01782,-0.0345],[0.01753,-0.043],[0.01712,-0.0409],
  [0.01719,-0.0534],[0.0171,-0.0258],[0.01686,-0.0472],[0.01657,-0.0559],[0.01646,-0.0631],[0.01641,-0.074],[0.01608,-0.073],[0.01592,-0.0726],
  [0.0158,-0.0876],[0.0155,-0.0835],[0.01523,-0.0813],[0.01533,-0.0901],[0.01475,-0.0957],[0.01507,-0.1008],[0.01458,-0.1073],[0.01394,-0.111],
  [0.01421,-0.1131],[0.01367,-0.1155],[0.01303,-0.1278],[0.01273,-0.1306],[0.0133,-0.1222],[0.01215,-0.1317],[0.0121,-0.1348],[0.01164,-0.1373],
  [0.01121,-0.1341],[0.01726,0.0028],[0.01742,0.0063],[0.01737,-0.0042],[0.01726,-0.0108],[0.01742,-0.0144],[0.01732,-0.0216]
];
const ctrlBottom = [
  [-0.0068,-0.2064],[-0.00469,-0.2064],[-0.00431,-0.2114],[-0.00306,-0.2096],[-0.00251,-0.2126],[-0.00455,-0.2175],[-0.00498,-0.22],[-0.00287,-0.2179],
  [-0.00313,-0.2233],[-0.00268,-0.2233],[-0.00264,-0.2308],[-0.00125,-0.2242],[-0.00083,-0.2242],[-0.00106,-0.217],[-0.00075,-0.2124],[-0.00022,-0.2092],
  [-0.00005,-0.2092],[0.0006,-0.2234],[0.00073,-0.2153],[0.00097,-0.2165],[0.00151,-0.2082],[0.00169,-0.2092],[0.00258,-0.21],[0.00251,-0.2138],
  [0.00244,-0.2186],[0.0027,-0.2047],[0.00323,-0.203],[0.0034,-0.205],[0.00416,-0.2054],[0.0042,-0.2015],[0.00581,-0.2001],[0.00593,-0.1973],
  [0.00485,-0.1991],[0.00505,-0.1981],[0.00531,-0.1893],[0.00517,-0.1879],[0.00577,-0.1883],[0.00646,-0.1921],[0.0066,-0.1883],[0.00732,-0.1823],
  [0.00753,-0.1788],[0.00796,-0.1816],[0.00806,-0.1767],[0.00842,-0.1753],[0.00875,-0.1705],[0.0094,-0.1716],[0.00882,-0.1677],[0.00976,-0.16],
  [0.01073,-0.1586],[0.01098,-0.1481],[-0.0066,-0.1977],[-0.00617,-0.2005],[-0.0056,-0.2012],[-0.00495,-0.2012],[-0.00431,-0.2019],[-0.00359,-0.2019],
  [-0.00273,-0.2033],[-0.00201,-0.2047],[-0.00136,-0.2019],[-0.00019,-0.2005],[0.00072,-0.2026],[0.00172,-0.1984],[0.00237,-0.1984],[0.00287,-0.1935],
  [0.00373,-0.1942],[0.00452,-0.1928]
];
const ctrlHole = [
  [-0.00969,0.0906],[-0.00925,0.0894],[-0.00872,0.0883],[-0.00831,0.0858],[-0.00803,0.088],[-0.00757,0.0935],[-0.00711,0.0898],[-0.00678,0.092],
  [-0.00788,0.082],[-0.00678,0.076],[-0.00721,0.0736],[-0.00613,0.0751],[-0.00563,0.0685],[-0.0081,0.0627],[-0.00889,0.0696],[-0.00862,0.0703],
  [-0.00846,0.0684],[-0.00929,0.0736],[-0.00986,0.0759],[-0.00968,0.0828],[-0.00915,0.0808],[-0.00886,0.0486],[-0.0076,0.0446],[-0.00933,0.0531],
  [-0.00975,0.0524],[-0.00975,0.0484],[-0.0089,0.0359],[-0.00915,0.0337],[-0.01015,0.0397],[-0.00986,0.032],[-0.00995,0.0247],[-0.00912,0.0257],
  [-0.00833,0.025],[-0.00929,0.0182],[-0.01024,0.0172],[-0.00841,0.0103],[-0.0092,0.0082],[-0.00935,0.0052],[-0.00995,0.004],[-0.01075,0],
  [-0.01022,-0.0015],[-0.00982,-0.0038],[-0.00834,-0.0081],[-0.00926,-0.0105],[-0.00912,-0.0101],[-0.00981,-0.012],[-0.00984,-0.0158],[-0.01008,-0.0195],
  [-0.01058,-0.0202],[-0.00905,-0.0249],[-0.00889,-0.0267],[-0.00813,-0.025],[-0.00979,-0.034],[-0.00953,-0.034],[-0.00984,-0.0379],[-0.01027,-0.0372],
  [-0.00872,-0.0404],[-0.00854,-0.0424],[-0.00942,-0.0437],[-0.00778,-0.0439],[-0.00674,-0.0446],[-0.00915,-0.0472],[-0.00808,-0.0535],[-0.00731,-0.0547],
  [-0.00897,-0.0559],[-0.00939,-0.0551],[-0.00681,-0.0626],[-0.00764,-0.0674],[-0.00709,-0.0722],[-0.0082,-0.0753],[-0.00804,-0.0794],[-0.00741,-0.0771],
  [-0.00719,-0.0776],[-0.00689,-0.0764],[-0.00616,-0.0768],[-0.00577,-0.0785],[-0.00642,-0.0804],[-0.00606,-0.0806],[-0.00542,-0.0809],[-0.0051,-0.0813],
  [-0.00477,-0.0764],[-0.00444,-0.0789],[-0.00412,-0.0779],[-0.00348,-0.0768],[-0.00312,-0.0783],[-0.00283,-0.0771],[-0.00246,-0.0771],[-0.00219,-0.0774],
  [-0.00181,-0.0783],[-0.00153,-0.0801],[-0.00118,-0.0764],[-0.00087,-0.0789],[-0.00055,-0.0758],[-0.00022,-0.0779],[0.00005,-0.0719],[0.00041,-0.0774],
  [0.00064,-0.0719],[0.00121,-0.0693],[0.0018,-0.0689],[0.00236,-0.0662],[0.00289,-0.0662],[0.00345,-0.0675],[0.00401,-0.0675],[0.00437,-0.0689],
  [0.0038,-0.0741],[0.00111,-0.0827],[0.0018,-0.0839],[-0.00375,-0.0831],[-0.00606,-0.0873],[-0.00646,-0.0891],[-0.00549,-0.0883],[-0.00474,-0.0883],
  [-0.00585,-0.0928],[-0.0053,-0.0943],[-0.00448,-0.0951],[-0.00395,-0.0936],[-0.00315,-0.0958],[0.00252,-0.0884],[0.00245,-0.0933],[0.00319,-0.0868],
  [0.00388,-0.0831],[-0.0024,-0.0001],[-0.00041,-0.0003],[-0.00365,0.0301],[-0.0031,0.0316],[-0.002,0.0268],[-0.00198,0.0181],[-0.00169,0.0298],
  [-0.00099,0.0226],[-0.00044,0.0231],[0.00005,0.0208],[0.00025,0.0141],[0.00046,0.0088],[0.00111,0.0111],[0.00137,0.0073],[0.00137,0.0021],
  [0.00197,0.0081],[0.0027,0.0084],[0.00283,0.0046],[0.0027,-0.0054],[0.0037,-0.0024],[0.00332,0.005],[0.00425,0.0043],[0.0049,0.002],
  [0.0049,-0.0047],[0.00533,-0.0054],[0.00499,-0.0114],[0.00524,-0.0166],[0.00516,-0.0244],[0.00585,-0.0338],[0.00555,-0.0391],[0.00521,-0.0476],
  [0.00481,-0.0585],[-0.00675,-0.0446],[0.00585,0.0021],[0.00593,-0.0039],[0.00628,-0.0099],[0.00645,-0.0249],[0.00679,-0.0114]
];
const ctrlHoleEdge = [
  [-0.01173,0.0793],[-0.0113,0.0718],[-0.01144,0.0644],[-0.01123,0.0584],[-0.01159,0.0524],[-0.0118,0.0464],[-0.0113,0.0449],[-0.01123,0.0404],
  [-0.01159,0.0359],[-0.01087,0.0374],[-0.01151,0.0269],[-0.0113,0.0217],[-0.0117,0.0206],[-0.01094,0.0224],[-0.01209,0.0172],[-0.01159,0.0135],
  [-0.01123,0.0075],[-0.01159,0.006],[-0.01073,0.015],[-0.01202,-0.003],[-0.0113,-0.0038],[-0.01097,-0.0038],[-0.01151,-0.0105],[-0.01123,-0.015],
  [-0.01094,-0.0105],[-0.01137,-0.021],[-0.0113,-0.0285],[-0.01073,-0.0315],[-0.01151,-0.033],[-0.01194,-0.0337],[-0.01166,-0.0382],[-0.01116,-0.0404],
  [-0.01087,-0.0419],[-0.01073,-0.0502],[-0.01123,-0.0494],[-0.01137,-0.0539],[-0.01044,-0.0562],[-0.01073,-0.0584],[-0.01015,-0.0584],[-0.00951,-0.0614],
  [-0.00972,-0.0719],[-0.00936,-0.0749],[-0.00872,-0.0726],[-0.00886,-0.0794],[-0.00829,-0.0839],[-0.01087,0.0913],[-0.01051,0.0876],[-0.01087,0.0808],
  [-0.01044,0.0811],[-0.01073,0.0756],[-0.01032,0.0722],[-0.01008,0.07],[-0.00998,0.0663],[-0.01035,0.0599],[-0.00981,0.0591],[-0.01073,0.0501],
  [-0.01124,0.0426],[-0.00929,0.1063],[-0.00843,0.1048],[-0.008,0.1003],[-0.00757,0.0958],[-0.00613,0.0883],[-0.00656,0.0861],[-0.00527,0.0823],
  [-0.00513,0.0741],[-0.00484,0.0718],[-0.00448,0.0644],[-0.00398,0.0599],[-0.00298,0.0494],[-0.00255,0.0464],[-0.0024,0.0419],[-0.00305,0.0389],
  [-0.00168,0.0374],[-0.00111,0.0367],[-0.00125,0.0344],[-0.00068,0.0314],[0.00004,0.0254],[0.00007,0.0209],[0.00087,0.0202],[0.00104,0.0187],
  [0.00176,0.0194],[0.00205,0.0157],[0.00025,0.0142],[0.00047,0.009],[0.00111,0.0112],[0.0014,0.0075],[0.0014,0.0022],[0.00197,0.0105],
  [0.00276,0.0082],[0.00334,0.0052],[0.00319,0.0082],[0.00377,0.0097],[0.00431,0.006],[0.00492,0.0045],[0.00528,0.003],[0.00485,0.012],
  [0.00563,0.0105],[0.00592,0.0045],[0.00595,-0.003],[0.00635,-0.0112],[0.00606,-0.0232],[0.00635,-0.0255],[-0.00319,0.0395],[-0.00302,0.038],
  [-0.00173,0.0373],[-0.00104,0.0286],[-0.00044,0.0313],[0.00017,0.0298],[0.00077,0.0208],[0.00154,0.0245],[0.00214,0.0201],[0.00301,0.0186],
  [0.00369,0.0146],[0.00473,0.0138],[0.0052,0.0146],[-0.00395,-0.0933],[-0.00423,-0.0985],[-0.0037,-0.0981],[-0.00481,-0.1024],[-0.00283,-0.1044],
  [-0.00233,-0.1013],[-0.00227,-0.1048],[-0.00197,-0.1041],[-0.00141,-0.1045],[-0.00144,-0.1069],[-0.00108,-0.1062],[0.00168,-0.1009],[-0.00047,-0.1111],
  [-0.00014,-0.1122],[0.00043,-0.1093],[0.00083,-0.1097],[0.0005,-0.1111],[-0.00409,-0.109],[-0.00373,-0.1083],[-0.0033,-0.1111],[-0.00237,-0.1153],
  [-0.00187,-0.1195],[-0.00294,-0.1181],[-0.00273,-0.1236],[-0.00129,-0.1236],[-0.00065,-0.1236],[0.00022,-0.1223],[0.0005,-0.1223],[0.00093,-0.116],[0,-0.1188]
];

// ==================== UTILS ====================
const toPts = (rows) => rows.map(([x, y]) => ({ x, y }));
const minorOf = (list, v) => list.some(m => Math.abs(m - v) < 1e-9);

const METRO_BLUE = "#5CACEE", CTRL_GREEN = "#9ACD32";

const dots = (rows, fill, edge) => ({
  data: toPts(rows), showLine: false,
  pointRadius: 4.7, pointBorderWidth: 1.6, pointBackgroundColor: fill, pointBorderColor: edge
});
const shape = (rows, color) => ({
  data: toPts(rows), showLine: true, fill: "shape",
  backgroundColor: color, borderWidth: 0, pointRadius: 0, tension: 0
});
const cycle = (rows, color) => ({
  data: toPts(rows), showLine: true, fill: false,
  borderColor: color, borderWidth: 11, borderCapStyle: "round", borderJoinStyle: "round",
  pointRadius: 0, tension: 0.45
});

// band with a hole: outer ring, over to the inner ring, inner ring, back
const withHole = (outer) => [...outer, outer[0], ctrlInner[0], ...ctrlInner.slice(1), ctrlInner[0], outer[0]];

const panelAndLabels = {
  id: "panelAndLabels",
  beforeDraw(chart) {
    const { ctx, chartArea: a } = chart;
    ctx.save();
    ctx.fillStyle = "#EBEBEB";
    ctx.fillRect(a.left, a.top, a.right - a.left, a.bottom - a.top);
    ctx.restore();
  },
  afterDraw(chart) {
    const { ctx, scales } = chart;
    ctx.save();
    ctx.font = '59px "Liberation Sans"';
    ctx.textAlign = "center";
    ctx.textBaseline = "middle";
    groupNames.forEach((name, i) => {
      ctx.fillStyle = i === 0 ? CTRL_GREEN : METRO_BLUE;
      ctx.fillText(name, scales.x.getPixelForValue(groupLabelQ[i]), scales.y.getPixelForValue(groupLabelP[i]) + 5);
    });
    // x title sits a little left of the panel centre in the original
    ctx.font = '68px "Liberation Sans"';
    ctx.fillStyle = "#000000";
    ctx.fillText("Q (m)", 1080, 1584);
    ctx.restore();
  }
};

const axisGrid = (minor) => ({
  color: "#FFFFFF",
  lineWidth: (c) => (minorOf(minor, c.tick.value) ? 2.1 : 4.2),
  tickColor: (c) => (minorOf(minor, c.tick.value) ? "rgba(0,0,0,0)" : "#333333"),
  tickWidth: 4.2,
  tickLength: 12
});

const axisTicks = (major, labels, extra) => ({
  autoSkip: false, maxRotation: 0, minRotation: 0,
  color: "#4D4D4D",
  font: { family: '"Liberation Sans"', size: 57.5 },
  callback: (v) => {
    const i = major.findIndex(m => Math.abs(m - v) < 1e-9);
    return i >= 0 ? labels[i] : "";
  },
  ...extra
});

const setTicks = (major, minor) => (scale) => {
  scale.ticks = [...major, ...minor].sort((a, b) => a - b).map(value => ({ value }));
};

const greenDots = (rows) => dots(rows, "#A6D34A", CTRL_GREEN);
const blueDots = (rows) => dots(rows, "#7ABCF1", METRO_BLUE);

new Chart(document.getElementById("chart"), {
  type: "scatter",
  plugins: [panelAndLabels],
  data: {
    // first dataset ends up on top
    datasets: [
      cycle(ctrlCycle, "#006400"),
      cycle(metroCycle, "#000080"),
      greenDots(ctrlEdge),
      greenDots(ctrlFringe),
      greenDots(ctrlInnerEdge),
      greenDots(ctrlUpperLeft),
      greenDots(ctrlLowerLeft),
      greenDots(ctrlTopRight),
      greenDots(ctrlRight),
      greenDots(ctrlBottom),
      greenDots(ctrlHole),
      greenDots(ctrlHoleEdge),
      shape(withHole(ctrlOuter), CTRL_GREEN),
      blueDots(metroEdge),
      blueDots(metroUpperLeft),
      blueDots(metroLowerLeft),
      blueDots(metroTopRight),
      blueDots(metroRight),
      blueDots(metroBottom),
      blueDots(metroHole),
      shape(withHole(metroEdge), METRO_BLUE)
    ]
  },
  options: {
    responsive: false,
    animation: false,
    events: [],
    layout: { padding: { top: 24, right: 23, left: 0, bottom: 0 } },
    plugins: { legend: { display: false }, tooltip: { enabled: false } },
    scales: {
      x: {
        type: "linear", min: -0.03323, max: 0.02175,
        afterBuildTicks: setTicks(qTicks, qMinor),
        afterFit: (s) => { s.height = 164; s.paddingLeft = 0; s.paddingRight = 0; },
        border: { display: false },
        grid: axisGrid(qMinor),
        ticks: axisTicks(qTicks, qTickLabels, { padding: 0 })
      },
      y: {
        type: "linear", min: -0.2779, max: 0.3273,
        afterBuildTicks: setTicks(pTicks, pMinor),
        afterFit: (s) => { s.width = 233; s.paddingTop = 0; s.paddingBottom = 0; },
        border: { display: false },
        grid: axisGrid(pMinor),
        ticks: axisTicks(pTicks, pTickLabels, { padding: 12, labelOffset: 4 }),
        title: { display: true, text: "P (m/s)", color: "#000000", font: { family: '"Liberation Sans"', size: 68 }, padding: { top: 12, bottom: 0 } }
      }
    }
  }
});
</script>
</body>
</html>
